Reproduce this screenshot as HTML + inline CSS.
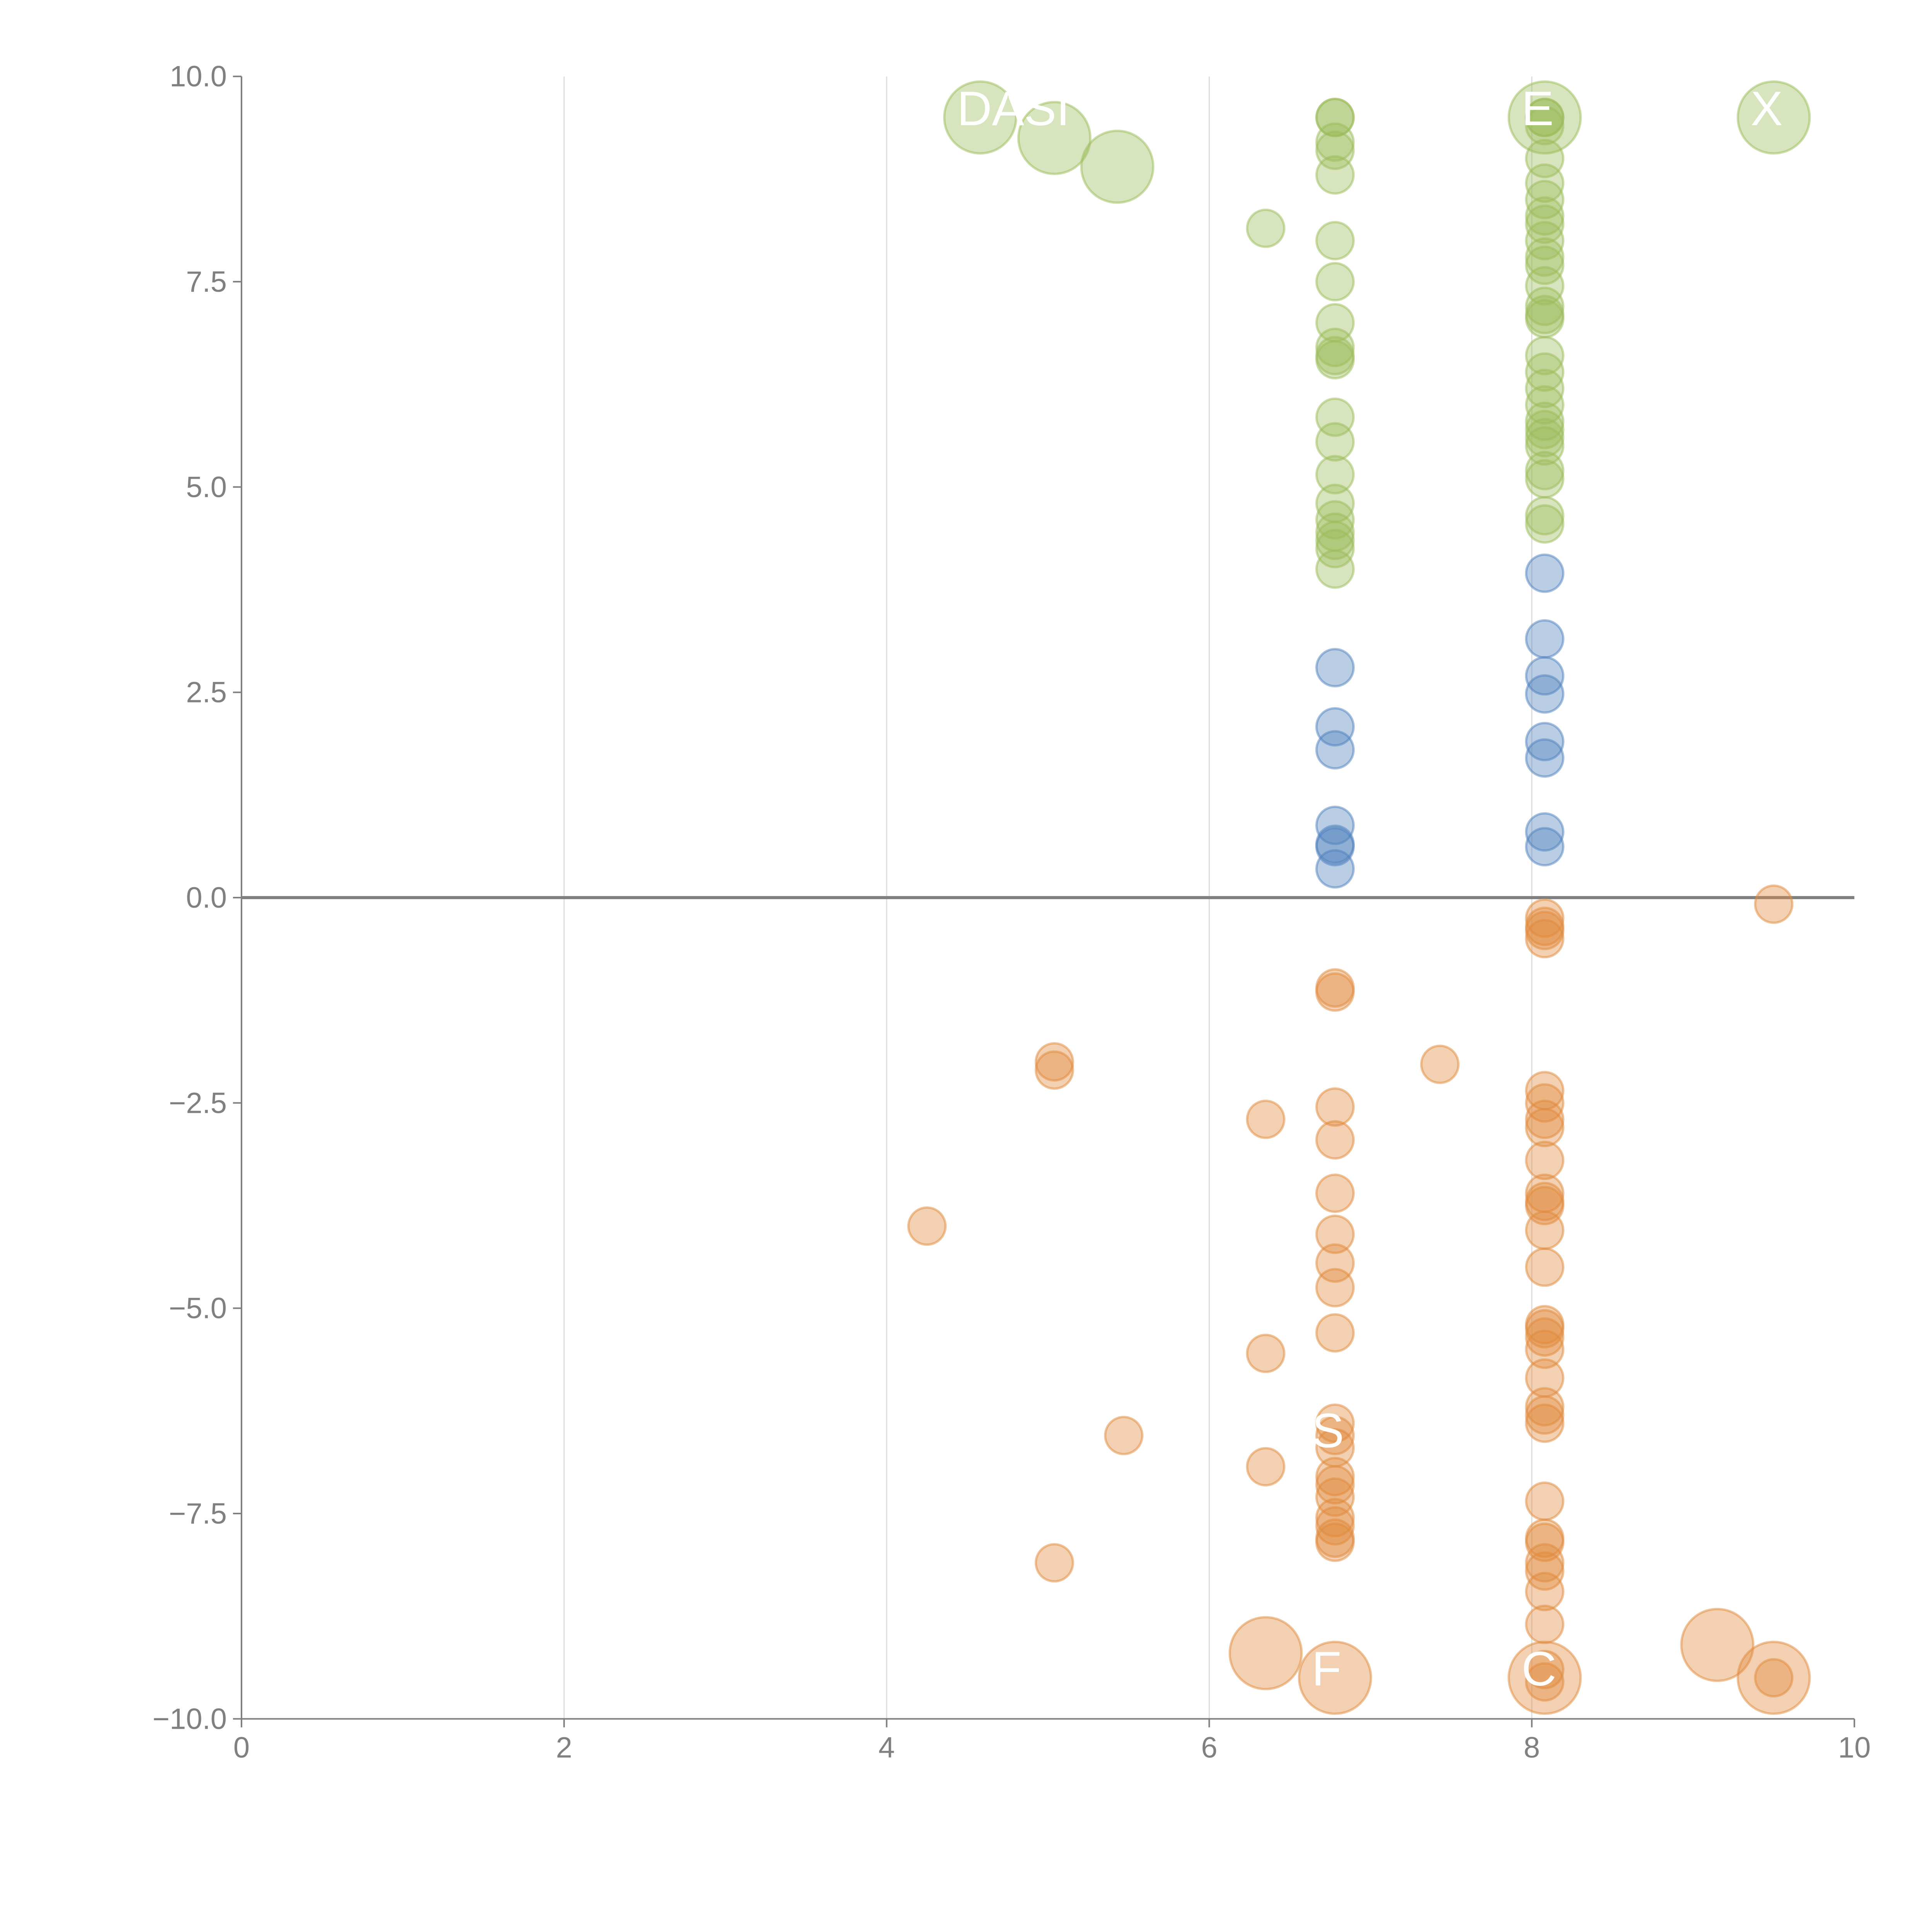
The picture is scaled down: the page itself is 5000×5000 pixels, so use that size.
<!DOCTYPE html>
<html><head><meta charset="utf-8"><style>html,body{margin:0;padding:0;background:#fff}svg{display:block}text{font-family:"Liberation Sans",sans-serif}</style></head>
<body>
<svg id="chart" width="5000" height="5000" viewBox="0 0 5000 5000" xmlns="http://www.w3.org/2000/svg">
<g id="grid"></g>
<g id="axes"></g>
<g id="marks"></g>
<g id="labels"></g>
</svg>
<script>
const xTicks=[0,2,4,6,8,10];
const yTicks=[-10,-7.5,-5,-2.5,0,2.5,5,7.5,10];
const yTickLabels=["\u221210.0","\u22127.5","\u22125.0","\u22122.5","0.0","2.5","5.0","7.5","10.0"];
const greenX=[6.78,6.78,6.78,6.78,6.78,6.78,6.78,6.78,6.78,6.78,6.78,6.78,6.78,6.78,6.78,6.78,6.78,6.78,6.78,6.78,
8.08,8.08,8.08,8.08,8.08,8.08,8.08,8.08,8.08,8.08,8.08,8.08,8.08,8.08,8.08,8.08,8.08,8.08,8.08,8.08,8.08,8.08,8.08,8.08,8.08,8.08,8.08,
4.58,5.04,5.43,6.35,8.08,9.5];
const greenY=[9.5,9.5,9.2,9.1,8.8,8.0,7.5,7.0,6.7,6.6,6.55,5.85,5.55,5.15,4.8,4.6,4.45,4.35,4.25,4.0,
9.5,9.5,9.4,9.0,8.7,8.5,8.3,8.2,8.0,7.8,7.7,7.45,7.2,7.1,7.05,6.6,6.4,6.2,6.0,5.8,5.7,5.6,5.5,5.2,5.1,4.65,4.55,
9.5,9.25,8.9,8.15,9.5,9.5];
const greenBig=[0,0,0,0,0,0,0,0,0,0,0,0,0,0,0,0,0,0,0,0,0,0,0,0,0,0,0,0,0,0,0,0,0,0,0,0,0,0,0,0,0,0,0,0,0,0,0,1,1,1,0,1,1];
const blueX=[6.78,6.78,6.78,6.78,6.78,6.78,6.78,8.08,8.08,8.08,8.08,8.08,8.08,8.08,8.08];
const blueY=[2.8,2.08,1.8,0.88,0.65,0.62,0.35,3.95,3.15,2.7,2.48,1.9,1.7,0.8,0.62];
const orangeX=[6.78,6.78,6.78,6.78,6.78,6.78,6.78,6.78,6.78,6.78,6.78,6.78,6.78,6.78,6.78,6.78,6.78,6.78,6.78,6.78,
8.08,8.08,8.08,8.08,8.08,8.08,8.08,8.08,8.08,8.08,8.08,8.08,8.08,8.08,8.08,8.08,8.08,8.08,8.08,8.08,8.08,8.08,8.08,8.08,8.08,8.08,8.08,8.08,8.08,8.08,8.08,8.08,
9.5,5.04,5.04,7.43,6.35,4.25,6.35,5.47,6.35,5.04,6.35,9.15,9.5,9.5];
const orangeY=[-1.1,-1.15,-2.55,-2.95,-3.6,-4.1,-4.45,-4.75,-5.3,-6.4,-6.55,-6.7,-7.05,-7.15,-7.3,-7.55,-7.65,-7.8,-7.85,-9.5,
-0.25,-0.35,-0.4,-0.5,-2.35,-2.5,-2.7,-2.8,-3.2,-3.6,-3.7,-3.75,-4.05,-4.5,-5.2,-5.25,-5.35,-5.5,-5.85,-6.2,-6.3,-6.4,-7.35,-7.8,-7.85,-8.1,-8.2,-8.45,-8.85,-9.4,-9.55,-9.5,
-0.08,-2.0,-2.1,-2.03,-2.7,-4.0,-5.55,-6.55,-6.93,-8.1,-9.2,-9.1,-9.5,-9.5];
const orangeBig=[0,0,0,0,0,0,0,0,0,0,0,0,0,0,0,0,0,0,0,1,
0,0,0,0,0,0,0,0,0,0,0,0,0,0,0,0,0,0,0,0,0,0,0,0,0,0,0,0,0,0,0,1,
0,0,0,0,0,0,0,0,0,0,1,1,1,0];
const labelText=["DASI","E","X","S","F","C"];
const labelX=[4.58,8.08,9.5,6.78,6.78,8.08];
const labelY=[9.5,9.5,9.5,-6.6,-9.5,-9.5];

const K=5000/1568;
const X0=196*K,X1=1505*K,YT=62*K,YB=1395*K;
const sx=v=>X0+(v-0)/(10-0)*(X1-X0);
const sy=v=>YB-(v+10)/20*(YB-YT);
const NS="http://www.w3.org/2000/svg";
function mk(tag,parent,attrs){const e=document.createElementNS(NS,tag);for(const k in attrs)e.setAttribute(k,attrs[k]);parent.appendChild(e);return e;}
const grid=document.getElementById('grid'),axes=document.getElementById('axes'),marks=document.getElementById('marks'),labels=document.getElementById('labels');
const gray="#808080";
xTicks.forEach((t,i)=>{
  if(t>0&&t<10){const g=mk('line',grid,{x1:sx(t),x2:sx(t),y1:YT,y2:YB,stroke:'#dcdcdc','stroke-width':3});
  
  }
  const tk=mk('line',axes,{x1:sx(t),x2:sx(t),y1:YB,y2:YB+22,stroke:gray,'stroke-width':4});
  
  
  const tx=mk('text',axes,{x:sx(t),y:YB+100,'text-anchor':'middle','font-size':76,fill:gray});
  tx.textContent=String(t);
  
  
});
yTicks.forEach((t,i)=>{
  const tk=mk('line',axes,{x1:X0-22,x2:X0,y1:sy(t),y2:sy(t),stroke:gray,'stroke-width':4});
  
  
  const tx=mk('text',axes,{x:X0-38,y:sy(t)+26,'text-anchor':'end','font-size':76,fill:gray});
  tx.textContent=yTickLabels[i];
  
  
});
const ya=mk('line',axes,{x1:X0,x2:X0,y1:YT,y2:YB,stroke:gray,'stroke-width':4});


const xa=mk('line',axes,{x1:X0,x2:X1,y1:YB,y2:YB,stroke:gray,'stroke-width':4});


const zl=mk('line',axes,{x1:X0,x2:X1,y1:sy(0),y2:sy(0),stroke:gray,'stroke-width':8});



function series(xs,ys,big,fill,stroke,name){
  xs.forEach((x,i)=>{
    const r=(big&&big[i])?93:48;
    const c=mk('circle',marks,{cx:sx(x),cy:sy(ys[i]),r:r,fill:fill,'fill-opacity':0.4,stroke:stroke,'stroke-opacity':0.5,'stroke-width':6});
    
    
  });
}
series(greenX,greenY,greenBig,'#9bbb59','#9bbb59','green-bubble');
series(blueX,blueY,null,'#4f81bd','#4f81bd','blue-bubble');
series(orangeX,orangeY,orangeBig,'#e08a3c','#e08a3c','orange-bubble');
labelText.forEach((s,i)=>{
  const t=mk('text',labels,{x:sx(labelX[i])-60,y:sy(labelY[i])+20,'font-size':125,fill:'#fff'});
  t.textContent=s;
  
  
});
</script>
</body></html>
